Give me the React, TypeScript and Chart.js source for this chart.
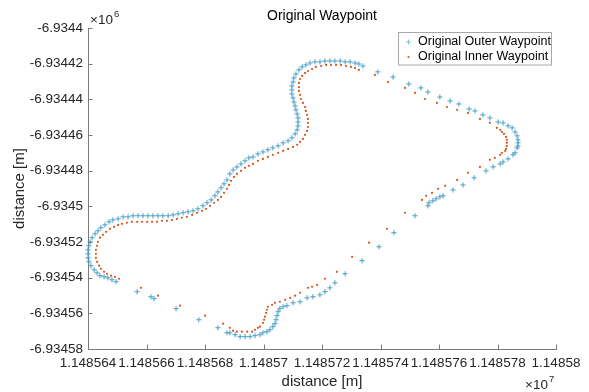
import { useEffect, useRef } from "react";
import { Chart, registerables } from "chart.js";

Chart.register(...registerables);

// Origin of the local offsets (metres). Point = origin + offset.
const EAST_ORIGIN = 11485600;
const NORTH_ORIGIN = -6934400;

const outerEast = [
  49.6, 48.2, 46.8, 45.5, 44.1, 43.1, 42.1, 41.0, 40.3, 40.0,
  40.0, 40.0, 40.3, 40.7, 41.4, 42.4, 43.4, 44.4, 45.8, 47.2,
  48.5, 50.3, 52.0, 53.7, 55.4, 57.1, 58.8, 60.5, 62.2, 63.9,
  65.6, 67.4, 69.1, 70.8, 72.5, 74.2, 75.9, 77.6, 79.3, 80.7,
  82.1, 83.4, 84.4, 85.5, 86.5, 87.5, 88.5, 89.6, 90.9, 92.3,
  93.7, 95.0, 96.4, 98.1, 99.8, 101.5, 103.2, 105.0, 106.7, 108.4,
  109.7, 110.8, 111.5, 111.8, 111.8, 111.8, 111.5, 111.1, 110.8, 110.4,
  110.1, 109.7, 109.7, 109.7, 110.1, 110.4, 111.1, 112.1, 113.2, 114.5,
  115.9, 117.6, 119.3, 121.0, 122.7, 124.4, 126.2, 127.9, 129.6, 131.3,
  132.6, 134.0,
  139.1, 144.3, 149.7, 153.8, 156.2, 160.3, 163.8, 166.8, 170.3, 172.3,
  175.0, 177.4, 180.2, 181.9, 183.6, 185.0, 186.0, 186.7, 187.0, 187.0,
  187.0, 186.7, 186.0, 185.3, 183.6, 181.9, 180.9, 178.5, 176.1, 172.0,
  168.2, 164.8, 161.4, 160.3, 159.0, 157.9, 156.6, 156.2, 151.8, 144.6,
  139.5, 133.7, 127.9, 124.4, 122.7, 121.0, 119.3, 116.9, 114.9, 112.5,
  110.1, 108.0, 106.7, 105.6, 105.0, 104.6, 104.3, 103.9, 103.2, 102.2,
  101.2, 99.8, 98.8, 97.1, 95.4, 93.7, 92.0, 90.3, 88.5, 87.5,
  84.4, 77.9, 70.1, 62.6, 61.5, 56.8,
];

const outerNorth = [
  -142.3, -141.2, -140.1, -139.5, -138.9, -137.3, -135.6, -133.3, -131.1, -128.9,
  -126.6, -124.4, -122.1, -119.9, -117.6, -115.4, -113.7, -112.0, -110.4, -108.7,
  -107.6, -107.0, -105.9, -105.9, -105.3, -105.3, -105.3, -105.3, -105.3, -105.3,
  -105.3, -105.3, -104.8, -104.2, -103.6, -103.1, -102.5, -101.4, -99.7, -98.0,
  -96.4, -94.1, -91.9, -89.6, -87.4, -85.2, -81.8, -79.6, -77.9, -76.2,
  -74.5, -72.8, -72.3, -70.6, -69.5, -68.3, -67.2, -66.1, -64.4, -63.3,
  -61.6, -59.4, -57.1, -54.9, -52.7, -50.4, -48.2, -45.9, -43.7, -41.5,
  -39.2, -37.0, -34.7, -32.5, -30.3, -28.0, -25.8, -23.5, -21.8, -20.7,
  -19.6, -19.0, -19.0, -18.5, -18.5, -18.5, -18.5, -19.0, -19.0, -19.6,
  -20.2, -21.3,
  -24.6, -27.5, -31.4, -33.6, -35.9, -38.7, -40.9, -42.6, -45.4, -46.5,
  -48.7, -50.4, -52.7, -53.2, -54.9, -56.0, -58.3, -60.5, -62.7, -64.4,
  -66.1, -67.2, -70.0, -71.1, -73.4, -75.1, -76.2, -77.9, -80.1, -84.0,
  -88.0, -90.8, -94.1, -94.7, -95.8, -96.9, -98.0, -99.7, -105.3, -114.8,
  -122.7, -130.5, -137.8, -142.9, -145.7, -147.9, -149.6, -150.7, -151.3, -153.5,
  -154.1, -155.7, -156.3, -157.4, -159.1, -161.3, -163.6, -165.8, -167.5, -169.2,
  -170.3, -170.9, -172.0, -172.5, -173.1, -173.1, -173.1, -172.0, -170.9, -170.9,
  -168.1, -163.6, -157.4, -151.8, -150.7, -147.9,
];

const innerEast = [
  50.6, 49.2, 47.9, 46.5, 45.5, 44.4, 43.8, 43.1, 42.7, 42.7,
  42.7, 43.1, 43.4, 44.1, 45.1, 46.2, 47.5, 48.9, 50.3, 51.6,
  53.3, 55.0, 56.8, 58.5, 60.2, 61.9, 63.6, 65.3, 67.0, 68.7,
  70.4, 72.1, 73.8, 75.6, 77.3, 79.0, 80.3, 81.7, 83.1, 84.4,
  85.5, 86.5, 87.5, 88.2, 88.9, 89.9, 90.9, 92.3, 93.7, 95.0,
  96.4, 98.1, 99.8, 101.5, 103.2, 105.0, 106.7, 108.4, 110.1, 111.5,
  112.5, 113.5, 114.2, 114.9, 115.2, 115.2, 115.2, 114.9, 114.5, 114.2,
  113.5, 112.8, 112.5, 112.1, 112.1, 112.1, 112.5, 113.2, 114.2, 115.2,
  116.6, 117.9, 119.7, 121.4, 123.1, 124.8, 126.5, 128.2, 129.9, 131.3,
  132.6,
  138.1, 142.6, 148.4, 151.8, 155.2, 159.3, 162.7, 166.2, 169.9,
  174.0, 177.4, 179.8, 180.9, 181.5, 182.2, 182.9, 183.2, 183.2, 183.2,
  182.9, 182.6, 181.5, 180.9, 179.1, 177.4, 174.0, 169.9, 166.2, 162.1,
  159.7, 157.6, 155.6, 154.2, 148.4, 142.2, 136.1, 130.3, 125.1, 121.0,
  118.3, 116.6, 115.2, 112.5, 110.8, 109.1, 107.4, 105.6, 103.9, 102.9,
  101.5, 101.2, 100.9, 100.5, 100.2, 99.8, 98.8, 98.1, 97.1, 96.1,
  94.4, 92.6, 90.9, 89.6, 88.5, 86.2, 80.0, 71.5, 63.9, 58.1,
];

const innerNorth = [
  -140.6, -139.5, -138.9, -137.8, -136.7, -135.0, -133.3, -131.1, -128.9, -126.6,
  -124.4, -122.1, -119.9, -117.6, -116.0, -114.3, -112.6, -111.5, -110.4, -109.8,
  -109.2, -108.7, -108.7, -108.7, -108.7, -108.7, -108.7, -108.1, -108.1, -107.6,
  -107.0, -106.4, -105.9, -104.8, -103.6, -102.5, -101.4, -99.7, -98.0, -96.4,
  -94.7, -92.4, -90.2, -88.0, -85.7, -83.5, -81.8, -80.1, -78.4, -77.3,
  -76.2, -74.5, -73.4, -72.3, -71.1, -70.0, -68.9, -67.8, -66.7, -65.5,
  -63.9, -62.2, -59.9, -57.7, -55.5, -53.2, -51.0, -48.7, -46.5, -44.3,
  -42.0, -39.8, -37.5, -35.3, -33.1, -30.8, -28.6, -26.9, -25.2, -24.1,
  -23.0, -21.8, -21.3, -20.7, -20.7, -20.7, -20.7, -21.3, -21.8, -22.4,
  -23.5,
  -26.3, -30.3, -33.6, -36.4, -39.8, -42.0, -44.3, -45.9, -47.6,
  -51.0, -53.2, -56.0, -57.1, -58.3, -59.4, -61.1, -62.7, -64.4, -66.1,
  -67.8, -68.9, -70.0, -71.1, -72.8, -73.9, -77.9, -81.2, -85.2, -88.5,
  -90.2, -92.4, -94.1, -96.4, -103.6, -112.6, -120.4, -128.3, -136.7, -140.6,
  -144.0, -145.1, -145.7, -148.5, -150.1, -151.3, -152.4, -153.5, -154.1, -155.2,
  -156.3, -158.0, -159.7, -161.9, -163.6, -165.3, -167.5, -168.1, -169.2, -170.3,
  -170.3, -170.3, -170.3, -169.7, -168.1, -165.8, -161.3, -155.7, -150.1, -145.7,
];

const xTickValues = [
  11485640, 11485660, 11485680, 11485700, 11485720, 11485740, 11485760, 11485780, 11485800,
];
const yTickValues = [
  -6934580, -6934560, -6934540, -6934520, -6934500, -6934480, -6934460, -6934440, -6934420, -6934400,
];

const TITLE = "Original Waypoint";
const X_TITLE = "distance [m]";
const Y_TITLE = "distance [m]";
const OUTER_LABEL = "Original Outer Waypoint";
const INNER_LABEL = "Original Inner Waypoint";

const FONT = '"Liberation Sans", Arial, Helvetica, sans-serif';
const TEXT = "#262626";
const AXIS = "#7a7a7a";
const BLUE = "#4a9fc7";
const RED = "#d95319";

const decorations = {
  id: "decorations",
  afterDraw(chart: any) {
    const ctx = chart.ctx;
    const { left, right, top, bottom } = chart.chartArea;
    const xs = chart.scales.x;
    const ys = chart.scales.y;
    ctx.save();
    // inward tick marks
    ctx.strokeStyle = AXIS;
    ctx.lineWidth = 1;
    ctx.beginPath();
    xs.ticks.forEach((t: any) => {
      const px = Math.round(xs.getPixelForValue(t.value)) + 0.5;
      ctx.moveTo(px, bottom);
      ctx.lineTo(px, bottom - 4.5);
    });
    ys.ticks.forEach((t: any) => {
      const py = Math.round(ys.getPixelForValue(t.value)) + 0.5;
      ctx.moveTo(left, py);
      ctx.lineTo(left + 4.5, py);
    });
    ctx.stroke();

    // exponent labels
    ctx.fillStyle = TEXT;
    ctx.textAlign = "left";
    ctx.textBaseline = "alphabetic";
    ctx.font = `13.5px ${FONT}`;
    ctx.fillText("\u00d710", left + 2, top - 4);
    let w = ctx.measureText("\u00d710").width;
    ctx.font = `9.5px ${FONT}`;
    ctx.fillText("6", left + 2 + w + 1, top - 11);

    ctx.font = `13.5px ${FONT}`;
    ctx.fillText("\u00d710", right - 31, bottom + 39.5);
    w = ctx.measureText("\u00d710").width;
    ctx.font = `9.5px ${FONT}`;
    ctx.fillText("7", right - 31 + w + 1, bottom + 33);

    // legend box
    const lx = right - 157.5;
    const ly = top + 4.5;
    const lw = 153;
    const lh = 32.5;
    ctx.fillStyle = "#ffffff";
    ctx.fillRect(lx, ly, lw, lh);
    ctx.strokeStyle = "#a8a8a8";
    ctx.lineWidth = 1;
    ctx.strokeRect(lx, ly, lw, lh);

    const mx = lx + 10;
    const r1 = ly + 9.5;
    const r2 = ly + 24.5;
    ctx.strokeStyle = "#7cc3da";
    ctx.beginPath();
    ctx.moveTo(mx - 2.5, r1);
    ctx.lineTo(mx + 2.5, r1);
    ctx.moveTo(mx, r1 - 2.5);
    ctx.lineTo(mx, r1 + 2.5);
    ctx.stroke();
    ctx.fillStyle = RED;
    ctx.beginPath();
    ctx.arc(mx, r2, 1.1, 0, Math.PI * 2);
    ctx.fill();

    ctx.fillStyle = "#000000";
    ctx.font = `12.5px ${FONT}`;
    ctx.textBaseline = "middle";
    ctx.fillText(OUTER_LABEL, lx + 19.5, r1);
    ctx.fillText(INNER_LABEL, lx + 19.5, r2);
    ctx.restore();
  },
};

export default function App() {
  const ref = useRef<HTMLCanvasElement | null>(null);

  useEffect(() => {
    if (!ref.current) return;
    const outerData = outerEast.map((e, i) => ({ x: EAST_ORIGIN + e, y: NORTH_ORIGIN + outerNorth[i] }));
    const innerData = innerEast.map((e, i) => ({ x: EAST_ORIGIN + e, y: NORTH_ORIGIN + innerNorth[i] }));

    const chart = new Chart(ref.current, {
      type: "scatter",
      data: {
        datasets: [
          {
            label: INNER_LABEL,
            data: innerData,
            pointStyle: "circle",
            pointRadius: 1.1,
            pointBorderWidth: 0,
            pointBackgroundColor: RED,
            borderColor: RED,
            backgroundColor: RED,
            clip: false as any,
          },
          {
            label: OUTER_LABEL,
            data: outerData,
            pointStyle: "cross",
            pointRadius: 2.6,
            pointBorderWidth: 1,
            pointBorderColor: BLUE,
            borderColor: BLUE,
            backgroundColor: BLUE,
            clip: false as any,
          },
        ],
      },
      options: {
        animation: false,
        responsive: false,
        devicePixelRatio: 1,
        layout: { padding: { left: 0, right: 33, top: 0, bottom: 0 } },
        plugins: {
          legend: { display: false },
          tooltip: { enabled: false },
          title: {
            display: true,
            text: TITLE,
            fullSize: false,
            color: "#000000",
            font: { family: FONT, size: 14, weight: "normal" as any, lineHeight: 1.2 },
            padding: { top: 8, bottom: 3.2 },
          },
        },
        scales: {
          x: {
            type: "linear",
            min: 11485640,
            max: 11485800,
            afterBuildTicks: (s: any) => {
              s.ticks = xTickValues.map((v) => ({ value: v }));
            },
            afterFit: (s: any) => {
              s.height = 43;
            },
            border: { display: true, color: AXIS, width: 1 },
            grid: { display: true, drawOnChartArea: false, drawTicks: false },
            ticks: {
              autoSkip: false,
              maxRotation: 0,
              minRotation: 0,
              padding: 6,
              color: TEXT,
              font: { family: FONT, size: 13.5 },
              callback: (v: any) => String(parseFloat((Number(v) / 1e7).toFixed(6))),
            },
            title: {
              display: true,
              text: X_TITLE,
              color: TEXT,
              font: { family: FONT, size: 15, lineHeight: 1.2 },
              padding: { top: 0, bottom: 1.5 },
            },
          },
          y: {
            type: "linear",
            min: -6934580,
            max: -6934400,
            afterBuildTicks: (s: any) => {
              s.ticks = yTickValues.map((v) => ({ value: v }));
            },
            afterFit: (s: any) => {
              s.width = 88;
            },
            border: { display: true, color: AXIS, width: 1 },
            grid: { display: true, drawOnChartArea: false, drawTicks: false },
            ticks: {
              autoSkip: false,
              padding: 5,
              color: TEXT,
              font: { family: FONT, size: 13.5 },
              callback: (v: any) => String(parseFloat((Number(v) / 1e6).toFixed(5))),
            },
            title: {
              display: true,
              text: Y_TITLE,
              color: TEXT,
              font: { family: FONT, size: 15, lineHeight: 1.2 },
              padding: { top: 11, bottom: 0 },
            },
          },
        },
      },
      plugins: [decorations],
    });
    return () => chart.destroy();
  }, []);

  return (
    <div style={{ position: "fixed", left: 0, top: 0, width: 589, height: 392, background: "#ffffff" }}>
      <canvas ref={ref} width={589} height={392} style={{ display: "block" }} />
    </div>
  );
}
